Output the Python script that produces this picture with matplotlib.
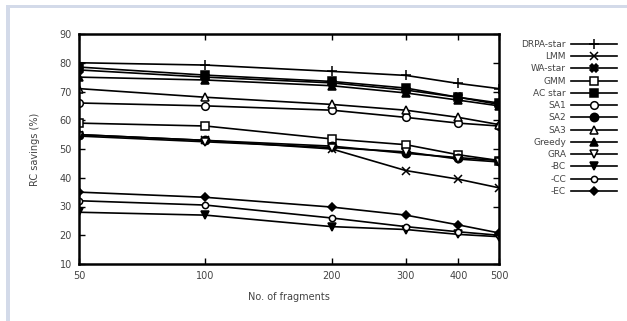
import numpy as np
import matplotlib.pyplot as plt
from matplotlib.patches import Rectangle
from matplotlib.ticker import FixedLocator, NullLocator

plt.rc('font', family='DejaVu Sans', size=7)

# Data
fragments = [50, 100, 200, 300, 400, 500]
drpa_star = [80, 79.2, 77, 75.6, 72.8, 71]
lmm = [55, 53, 50, 42.5, 39.5, 36.5]
wa_star = [77.5, 75, 73, 70.5, 68, 65.5]
gmm = [59, 58, 53.5, 51.5, 48, 46]
ac_star = [78.5, 75.7, 73.5, 71.2, 68, 66]
sa1 = [66, 65, 63.5, 61, 59, 58]
sa2 = [55, 53, 51, 48.5, 47, 46]
sa3 = [71, 68, 65.5, 63.5, 61, 58.5]
greedy = [75, 74, 72, 69.5, 67, 65]
gra = [54.5, 52.5, 50.5, 49, 46.5, 45.5]
bc = [28, 27, 23, 22, 20.3, 19.5]
cc = [32, 30.5, 26, 23, 21.2, 20]
ec = [35, 33.2, 29.8, 27, 23.6, 20.8]

labels = ['DRPA-star', 'LMM', 'WA-star', 'GMM', 'AC star', 'SA1', 'SA2', 'SA3',
          'Greedy', 'GRA', '-BC', '-CC', '-EC']
series = [drpa_star, lmm, wa_star, gmm, ac_star, sa1, sa2, sa3,
          greedy, gra, bc, cc, ec]
markers = ['+', 'x', 'X', 's', 's', 'o', 'o', '^', '^', 'v', 'v', 'o', 'D']
filled = [True, True, True, False, True, False, True, False, True, False, True, False, True]
sizes = [7, 6, 5.5, 5.5, 6, 5.5, 6, 5.5, 5.5, 5.5, 5.5, 4.5, 4.5]

fig = plt.figure(figsize=(6.27, 3.21), dpi=100)
fig.patch.set_facecolor('white')

# light frame of the source image
fig.add_artist(Rectangle((6 / 627, 0), 4 / 627, 1 - 5 / 321, transform=fig.transFigure,
                         facecolor='#d3dae9', edgecolor='none'))
fig.add_artist(Rectangle((6 / 627, 1 - 8 / 321), 1, 3 / 321, transform=fig.transFigure,
                         facecolor='#d3dae9', edgecolor='none'))

ax = fig.add_axes([79 / 627, 1 - 264 / 321, 420 / 627, 230 / 321])

for lab, y, m, f, s in zip(labels, series, markers, filled, sizes):
    ax.plot(fragments, y, color='black', linewidth=1.2, marker=m, markersize=s,
            markerfacecolor='black' if f else 'white', markeredgecolor='black',
            markeredgewidth=1.1, label=lab)

ax.set_xscale('log')
ax.set_xlim(50, 500)
ax.set_ylim(10, 90)
ax.xaxis.set_major_locator(FixedLocator(fragments))
ax.xaxis.set_minor_locator(NullLocator())
ax.set_xticklabels([str(v) for v in fragments])
ax.set_yticks(np.arange(10, 91, 10))
ax.tick_params(direction='in', length=4, width=1, top=True, right=True,
               labelcolor='#444444', labelsize=7, pad=5)
for sp in ax.spines.values():
    sp.set_linewidth(1.8)

ax.set_xlabel('No. of fragments', color='#444444', fontsize=7, labelpad=8)
ax.set_ylabel('RC savings (%)', color='#444444', fontsize=7, labelpad=14)

leg = ax.legend(loc='upper left', bbox_to_anchor=(1.045, 0.99), frameon=False,
                markerfirst=False, handlelength=5.2, handletextpad=0.5,
                labelspacing=0.36, fontsize=6.5, borderaxespad=0)
for t in leg.get_texts():
    t.set_color('#444444')

fig.savefig('out.png', dpi=100)
